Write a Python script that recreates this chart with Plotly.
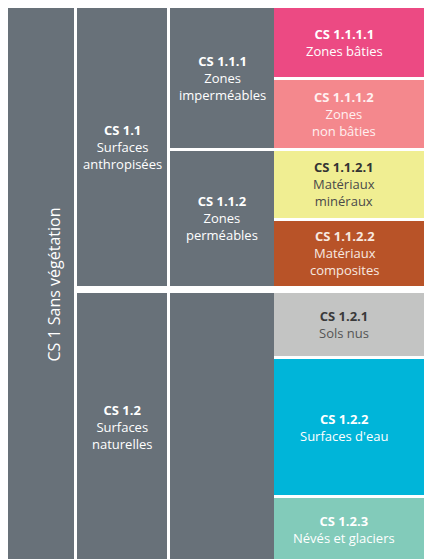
import plotly.graph_objects as go

# Données : nomenclature CS 1 (feuilles au niveau le plus fin)
leaf_codes = ["CS 1.1.1.1", "CS 1.1.1.2", "CS 1.1.2.1", "CS 1.1.2.2", "CS 1.2.1", "CS 1.2.2", "CS 1.2.3"]
leaf_names = ["Zones bâties", "Zones<br>non bâties", "Matériaux<br>minéraux", "Matériaux<br>composites",
              "Sols nus", "Surfaces d'eau", "Névés et glaciers"]
leaf_values = [69, 67, 67, 65, 63, 135, 63]
leaf_level2 = ["CS 1.1", "CS 1.1", "CS 1.1", "CS 1.1", "CS 1.2", "CS 1.2", "CS 1.2"]
leaf_level3 = ["CS 1.1.1", "CS 1.1.1", "CS 1.1.2", "CS 1.1.2", "", "", ""]

level2_codes = ["CS 1.1", "CS 1.2"]
level2_names = ["Surfaces<br>anthropisées", "Surfaces<br>naturelles"]
level3_codes = ["CS 1.1.1", "CS 1.1.2"]
level3_names = ["Zones<br>imperméables", "Zones<br>perméables"]
root_label = "CS 1 Sans végétation"

# Style
GRIS = "#687179"
leaf_colors = ["#ec4a83", "#f4888d", "#f0ee92", "#b85328", "#c3c4c3", "#00b5d9", "#82cbba"]
leaf_text = ["white", "#fff0f0", "#333333", "#f7e9e0", "#3a3a3a", "white", "white"]
leaf_sub = ["white", "#fff0f0", "#4a4a4a", "#f7e9e0", "#555555", "white", "white"]
COLS = [(8, 74), (77, 167), (170, 274), (274, 432)]
GAP_IN, GAP_OUT = 3, 7
FONT = "Open Sans, sans-serif"
FS = 13

# positions verticales (calculées)
starts, y = [], 0
for i, v in enumerate(leaf_values):
    if i > 0:
        y += GAP_IN if leaf_level2[i] == leaf_level2[i - 1] else GAP_OUT
    starts.append(y)
    y += v
total = y
ends = [s + v for s, v in zip(starts, leaf_values)]


def span(keys, key):
    idx = [i for i, k in enumerate(keys) if k == key]
    return starts[idx[0]], ends[idx[-1]]


fig = go.Figure()
annots = []


def colonne(col, segs, colors):
    x0, x1 = COLS[col]
    fig.add_trace(go.Bar(
        x=[(x0 + x1) / 2] * len(segs),
        base=[s[0] for s in segs],
        y=[s[1] - s[0] for s in segs],
        width=[x1 - x0] * len(segs),
        marker=dict(color=colors, line=dict(width=0)),
        hoverinfo="skip", showlegend=False,
    ))


# colonne 1 : racine
colonne(0, [(0, total)], [GRIS])
annots.append(dict(x=sum(COLS[0]) / 2, y=total / 2, text=root_label, textangle=-90, xshift=12,
                   font=dict(size=16, color="white", family=FONT)))

# colonne 2
segs2 = [span(leaf_level2, c) for c in level2_codes]
colonne(1, segs2, [GRIS] * len(segs2))
for c, n, (a, b) in zip(level2_codes, level2_names, segs2):
    annots.append(dict(x=sum(COLS[1]) / 2, y=(a + b) / 2, text=f"<b>{c}</b><br>{n}",
                       font=dict(size=FS, color="white", family=FONT)))

# colonne 3 (bloc vide sous CS 1.2)
segs3 = [span(leaf_level3, c) for c in level3_codes] + [span(leaf_level2, "CS 1.2")]
colonne(2, segs3, [GRIS] * len(segs3))
for c, n, (a, b) in zip(level3_codes, level3_names, segs3):
    annots.append(dict(x=sum(COLS[2]) / 2, y=(a + b) / 2, text=f"<b>{c}</b><br>{n}",
                       font=dict(size=FS, color="white", family=FONT)))

# colonne 4 : feuilles (texte centré sur la partie visible)
colonne(3, list(zip(starts, ends)), leaf_colors)
for c, n, a, b, tc, sc in zip(leaf_codes, leaf_names, starts, ends, leaf_text, leaf_sub):
    annots.append(dict(x=sum(COLS[3]) / 2, y=(a + b) / 2, xshift=-9,
                       text=f"<b><span style='color:{tc}'>{c}</span></b><br><span style='color:{sc}'>{n}</span>",
                       font=dict(size=FS, color=tc, family=FONT)))

for a in annots:
    a.update(xref="x", yref="y", showarrow=False, align="center")

# la page a une marge de 8 px : la figure commence à (8, 8), largeur utile 416 px
fig.update_layout(
    width=416, height=553,
    margin=dict(l=0, r=0, t=0, b=0),
    paper_bgcolor="white", plot_bgcolor="white",
    barmode="overlay", bargap=0,
    xaxis=dict(range=[8, 424], visible=False, fixedrange=True),
    yaxis=dict(range=[total, 0], visible=False, fixedrange=True),
    annotations=annots,
)

fig.write_html("out.html")
